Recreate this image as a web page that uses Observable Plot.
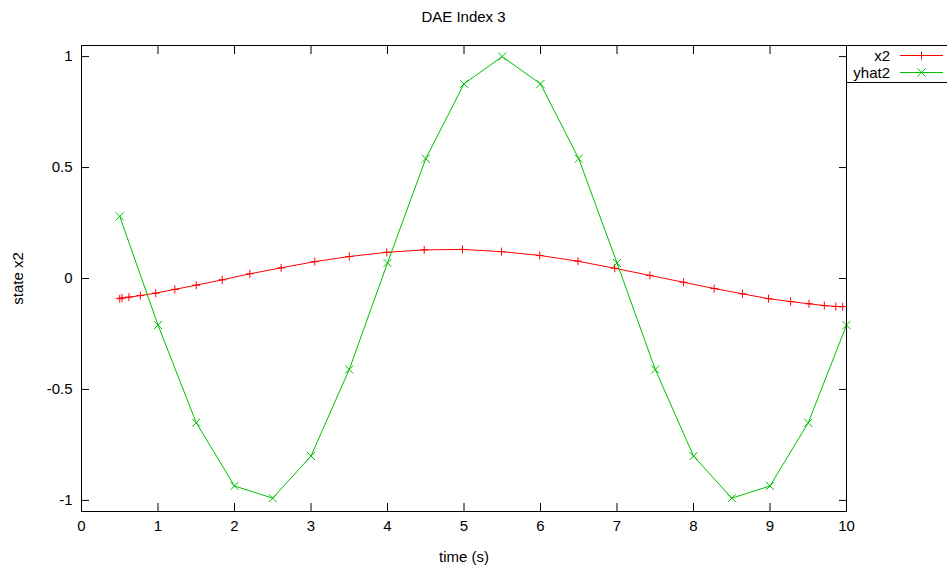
<!DOCTYPE html>
<html><head><meta charset="utf-8">
<script src="https://cdn.jsdelivr.net/npm/d3@7"></script>
<script src="https://cdn.jsdelivr.net/npm/@observablehq/plot@0.6"></script>
<style>
html,body{margin:0;padding:0;background:#fff;overflow:hidden;}
body{font-family:"Liberation Sans",Arial,sans-serif;color:#000;}
#wrap{position:relative;width:947px;height:569px;overflow:hidden;}
#title{height:34px;line-height:34px;margin-left:81px;width:765px;text-align:center;font-size:15px;}
#legend{position:absolute;left:846px;top:45px;width:140px;height:36px;border:1px solid #000;background:#fff;}
.row{position:absolute;left:0;height:17px;display:flex;align-items:center;}
.row span{display:inline-block;width:43px;text-align:right;font-size:15px;}
.row svg{margin-left:3px;}
</style></head>
<body><div id="wrap"><div id="title"></div><div id="chart"></div><div id="legend"></div></div>
<script>
const titleText = "DAE Index 3";
const xLabel = "time (s)";
const yLabel = "state x2";
const xTicks = [0,1,2,3,4,5,6,7,8,9,10];
const yTicks = [-1,-0.5,0,0.5,1];
const seriesNames = ["x2","yhat2"];
const seriesColors = ["#ff0000","#00c000"];
const seriesSymbols = ["plus","times"];

const x2T = [0.5,0.53,0.62,0.77,0.97,1.22,1.5,1.84,2.2,2.61,3.05,3.5,3.99,4.48,4.98,5.49,5.99,6.49,6.97,7.43,7.87,8.27,8.64,8.98,9.27,9.51,9.71,9.86,9.95];
const x2V = [-0.091,-0.088,-0.084,-0.077,-0.066,-0.049,-0.030,-0.006,0.021,0.048,0.076,0.099,0.118,0.129,0.131,0.121,0.104,0.078,0.046,0.014,-0.017,-0.045,-0.069,-0.091,-0.104,-0.114,-0.122,-0.126,-0.127];
const yhatT = [0.5,1,1.5,2,2.5,3,3.5,4,4.5,5,5.5,6,6.5,7,7.5,8,8.5,9,9.5,10];
const yhatV = [0.28,-0.21,-0.65,-0.935,-0.99,-0.80,-0.41,0.07,0.54,0.877,1.0,0.877,0.54,0.07,-0.41,-0.80,-0.99,-0.935,-0.65,-0.21];

const x2Data = x2T.map((t,i)=>({t, v:x2V[i]}));
const yhatData = yhatT.map((t,i)=>({t, v:yhatV[i]}));

document.getElementById("title").textContent = titleText;

const fmt = d => String(d);
const chart = Plot.plot({
  width: 947, height: 535,
  marginTop: 11, marginBottom: 58, marginLeft: 81, marginRight: 101,
  style: {fontFamily: "'Liberation Sans', Arial, sans-serif", fontSize: "15px", color: "#000", background: "#fff"},
  x: {domain: [0,10]},
  y: {domain: [-1.05,1.05]},
  marks: [
    Plot.line(x2Data, {x:"t", y:"v", stroke: seriesColors[0], strokeWidth: 1}),
    Plot.dot(x2Data, {x:"t", y:"v", symbol: seriesSymbols[0], r: 2.7, stroke: seriesColors[0], strokeWidth: 1}),
    Plot.line(yhatData, {x:"t", y:"v", stroke: seriesColors[1], strokeWidth: 1}),
    Plot.dot(yhatData, {x:"t", y:"v", symbol: seriesSymbols[1], r: 3.7, stroke: seriesColors[1], strokeWidth: 1}),
    Plot.axisX({anchor:"bottom", ticks: xTicks, tickSize: 0, tickPadding: 9, tickFormat: fmt, label: xLabel, labelAnchor: "center", labelOffset: 50, labelArrow: "none"}),
    Plot.axisY({anchor:"left", ticks: yTicks, tickSize: 0, tickPadding: 9, tickFormat: fmt, label: yLabel, labelAnchor: "center", labelOffset: 69, labelArrow: "none"}),
    Plot.axisX({anchor:"bottom", ticks: xTicks, tickSize: 8, dy: -8, tickFormat: () => "", label: null}),
    Plot.axisX({anchor:"top", ticks: xTicks, tickSize: 8, dy: 8, tickFormat: () => "", label: null}),
    Plot.axisY({anchor:"left", ticks: yTicks, tickSize: 8, dx: 8, tickFormat: () => "", label: null}),
    Plot.axisY({anchor:"right", ticks: yTicks, tickSize: 8, dx: -8, tickFormat: () => "", label: null}),
    Plot.frame({stroke: "#000", strokeWidth: 1})
  ]
});
document.getElementById("chart").appendChild(chart);

// legend
const leg = document.getElementById("legend");
seriesNames.forEach((name, i) => {
  const row = document.createElement("div");
  row.className = "row";
  row.style.top = (1 + i*16.5) + "px";
  const sp = document.createElement("span");
  sp.textContent = name;
  row.appendChild(sp);
  const ns = "http://www.w3.org/2000/svg";
  const svg = document.createElementNS(ns, "svg");
  svg.setAttribute("width", 50); svg.setAttribute("height", 17);
  const ln = document.createElementNS(ns, "line");
  ln.setAttribute("x1", 7); ln.setAttribute("x2", 50); ln.setAttribute("y1", 8.5); ln.setAttribute("y2", 8.5);
  ln.setAttribute("stroke", seriesColors[i]);
  svg.appendChild(ln);
  const p = document.createElementNS(ns, "path");
  const c = 28.5, m = 8.5;
  p.setAttribute("d", seriesSymbols[i] === "plus"
    ? `M${c-4},${m}H${c+4}M${c},${m-4}V${m+4}`
    : `M${c-4},${m-4}L${c+4},${m+4}M${c-4},${m+4}L${c+4},${m-4}`);
  p.setAttribute("stroke", seriesColors[i]); p.setAttribute("fill", "none");
  svg.appendChild(p);
  row.appendChild(svg);
  leg.appendChild(row);
});
</script></body></html>
